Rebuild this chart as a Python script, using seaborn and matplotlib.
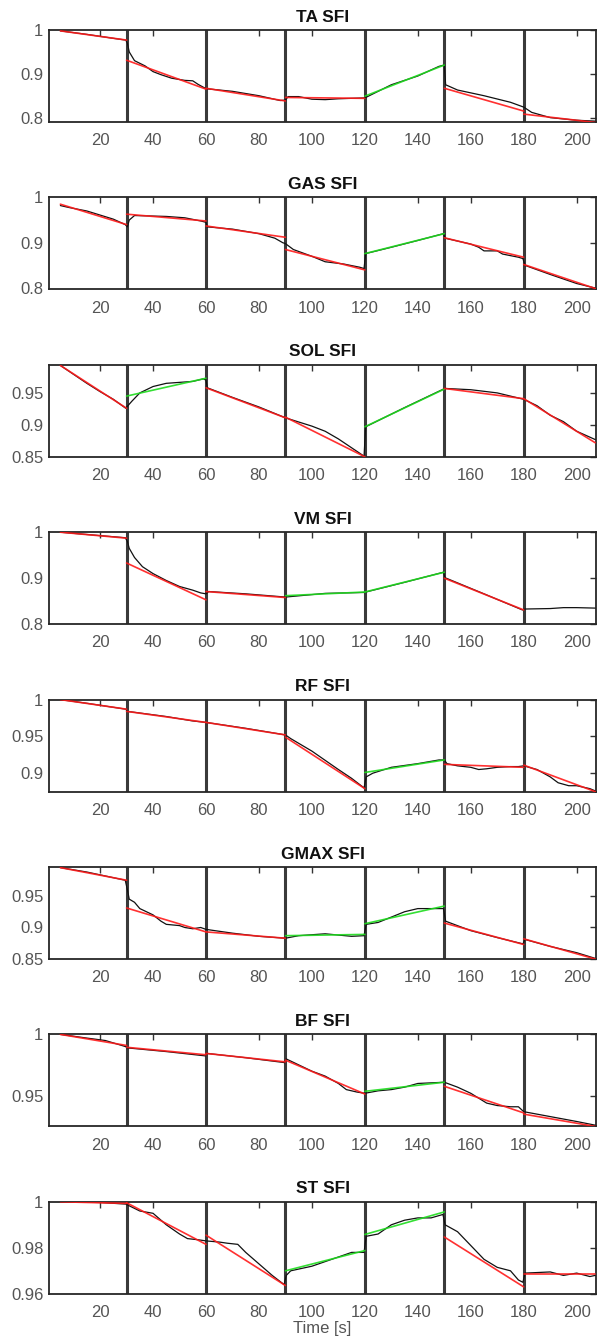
import numpy as np
import pandas as pd
import matplotlib
matplotlib.use("Agg")
import matplotlib.pyplot as plt
from matplotlib.ticker import FormatStrFormatter
import seaborn as sns

# segment edges (s) and boundaries between trials
seg_edges = [5, 30, 60, 90, 120, 150, 180, 207]
boundaries = [30, 60, 90, 120, 150, 180]

muscles = ["TA", "GAS", "SOL", "VM", "RF", "GMAX", "BF", "ST"]

# raw SFI traces (black)
ta_t = [5, 15, 25, 29.7, 30.3, 31, 33, 37, 40, 43, 47, 52, 55, 57, 60, 70, 80, 88, 90, 91,
        95, 100, 105, 110, 120, 130, 140, 148, 150, 150.5, 155, 165, 175, 180, 183, 190, 200, 207]
ta_v = [0.998, 0.99, 0.981, 0.977, 0.97, 0.95, 0.93, 0.918, 0.905, 0.898, 0.89, 0.885, 0.884, 0.876,
        0.866, 0.86, 0.85, 0.839, 0.84, 0.848, 0.848, 0.842, 0.841, 0.843, 0.845, 0.875, 0.895, 0.917,
        0.92, 0.875, 0.863, 0.85, 0.835, 0.824, 0.812, 0.8, 0.794, 0.792]

gas_t = [5, 8, 15, 25, 29.5, 30.3, 31, 33, 45, 52, 58, 60, 60.5, 70, 80, 86, 89, 90, 93, 100,
         105, 112, 118, 119.7, 120.3, 130, 140, 149.7, 150.3, 160, 163, 165, 170, 172, 178, 179.7,
         180.5, 190, 200, 207]
gas_v = [0.982, 0.978, 0.97, 0.952, 0.94, 0.935, 0.95, 0.96, 0.958, 0.955, 0.948, 0.945, 0.935, 0.93,
         0.92, 0.91, 0.90, 0.898, 0.885, 0.87, 0.858, 0.853, 0.846, 0.843, 0.876, 0.89, 0.905, 0.92,
         0.91, 0.897, 0.89, 0.882, 0.882, 0.875, 0.868, 0.865, 0.85, 0.83, 0.81, 0.80]

sol_t = [5, 15, 20, 25, 29.7, 30.5, 32, 35, 40, 45, 55, 59, 60, 60.5, 70, 80, 90, 100, 105, 110,
         119.7, 120.3, 135, 149.7, 150.3, 160, 170, 180, 185, 190, 195, 200, 207]
sol_v = [0.993, 0.965, 0.952, 0.94, 0.926, 0.93, 0.937, 0.95, 0.96, 0.965, 0.968, 0.972, 0.97, 0.958,
         0.943, 0.928, 0.911, 0.898, 0.89, 0.878, 0.851, 0.897, 0.927, 0.956, 0.957, 0.955, 0.95,
         0.94, 0.93, 0.915, 0.905, 0.89, 0.877]

vm_t = [5, 15, 29.5, 30.3, 31, 33, 36, 40, 45, 50, 55, 58, 60, 61, 75, 90, 105, 119.7, 135, 149.7,
        150.3, 165, 179.5, 180.5, 190, 195, 200, 207]
vm_v = [1.0, 0.995, 0.988, 0.98, 0.965, 0.945, 0.925, 0.91, 0.895, 0.882, 0.874, 0.868, 0.866, 0.871,
        0.866, 0.859, 0.867, 0.869, 0.891, 0.913, 0.901, 0.866, 0.831, 0.833, 0.834, 0.836, 0.836, 0.835]

rf_t = [5, 15, 29.7, 30.3, 45, 55, 60, 75, 90, 92, 100, 108, 110, 115, 119.7, 120.5, 123, 130, 140,
        148, 150, 151, 155, 160, 163, 166, 170, 175, 178, 180, 185, 190, 193, 197, 200, 205, 207]
rf_v = [1.0, 0.995, 0.987, 0.984, 0.977, 0.971, 0.969, 0.961, 0.952, 0.947, 0.93, 0.91, 0.905, 0.893,
        0.88, 0.895, 0.9, 0.908, 0.913, 0.918, 0.918, 0.913, 0.91, 0.908, 0.905, 0.906, 0.908, 0.909,
        0.909, 0.91, 0.905, 0.895, 0.887, 0.883, 0.883, 0.879, 0.876]

gmax_t = [5, 15, 29.5, 30.3, 31, 33, 35, 40, 43, 45, 50, 52, 55, 58, 60, 70, 80, 90, 95, 105,
          110, 115, 119.7, 120.5, 125, 135, 140, 145, 149.7, 150.5, 160, 170, 179.7, 180.5, 190, 200, 207]
gmax_v = [0.995, 0.988, 0.975, 0.96, 0.945, 0.94, 0.93, 0.92, 0.91, 0.905, 0.903, 0.9, 0.898, 0.9,
          0.897, 0.891, 0.886, 0.883, 0.887, 0.89, 0.888, 0.886, 0.887, 0.905, 0.908, 0.925, 0.93,
          0.93, 0.93, 0.91, 0.895, 0.884, 0.874, 0.881, 0.87, 0.86, 0.851]

bf_t = [5, 15, 22, 29.7, 30.3, 45, 59.7, 60.3, 75, 89.7, 90.3, 100, 105, 110, 113, 117, 120, 125,
        130, 135, 140, 150, 155, 160, 163, 166, 170, 175, 178, 180, 190, 200, 207]
bf_v = [1.0, 0.997, 0.995, 0.99, 0.989, 0.986, 0.9825, 0.9845, 0.981, 0.977, 0.98, 0.97, 0.966, 0.96,
        0.955, 0.953, 0.952, 0.954, 0.955, 0.957, 0.96, 0.961, 0.957, 0.952, 0.948, 0.944, 0.942,
        0.941, 0.941, 0.937, 0.933, 0.929, 0.926]

st_t = [5, 20, 29.7, 35, 40, 45, 50, 53, 57, 60, 65, 68, 72, 75, 80, 85, 89.5, 90.3, 92, 100,
        110, 115, 119.7, 120.5, 125, 130, 135, 140, 145, 149.5, 150.3, 155, 160, 165, 170, 175,
        178, 179.7, 180.5, 190, 195, 200, 205, 207]
st_v = [1.0, 0.9997, 0.999, 0.996, 0.995, 0.99, 0.986, 0.984, 0.9835, 0.983, 0.9825, 0.982, 0.9815,
        0.978, 0.973, 0.968, 0.964, 0.968, 0.97, 0.972, 0.976, 0.978, 0.978, 0.985, 0.986, 0.99,
        0.992, 0.993, 0.993, 0.9945, 0.99, 0.987, 0.981, 0.975, 0.9715, 0.97, 0.966, 0.965, 0.969,
        0.9695, 0.968, 0.969, 0.9675, 0.968]

# linear fits per segment: start value, end value, colour ('r' falling, 'g' rising, None = no fit)
fit_start = {
    "TA":   [0.998, 0.931, 0.867, 0.846, 0.849, 0.867, 0.808],
    "GAS":  [0.985, 0.963, 0.937, 0.885, 0.876, 0.911, 0.852],
    "SOL":  [0.993, 0.945, 0.958, 0.912, 0.897, 0.957, 0.941],
    "VM":   [1.0, 0.933, 0.871, 0.862, 0.87, 0.9, None],
    "RF":   [1.0, 0.984, 0.969, 0.949, 0.901, 0.912, 0.911],
    "GMAX": [0.995, 0.931, 0.893, 0.887, 0.906, 0.907, 0.882],
    "BF":   [1.0, 0.9895, 0.9845, 0.979, 0.9536, 0.9577, 0.935],
    "ST":   [1.0, 0.9996, 0.9855, 0.970, 0.9858, 0.9847, 0.9686],
}
fit_end = {
    "TA":   [0.977, 0.865, 0.838, 0.844, 0.92, 0.815, 0.789],
    "GAS":  [0.94, 0.948, 0.912, 0.84, 0.92, 0.868, 0.799],
    "SOL":  [0.926, 0.973, 0.911, 0.85, 0.956, 0.941, 0.872],
    "VM":   [0.987, 0.853, 0.858, 0.87, 0.913, 0.831, None],
    "RF":   [0.987, 0.969, 0.952, 0.879, 0.918, 0.908, 0.875],
    "GMAX": [0.975, 0.893, 0.883, 0.889, 0.934, 0.873, 0.85],
    "BF":   [0.991, 0.9834, 0.9776, 0.9514, 0.961, 0.936, 0.925],
    "ST":   [0.9993, 0.9815, 0.9636, 0.9788, 0.9956, 0.963, 0.9686],
}
fit_color = {
    "TA":   ["r", "r", "r", "r", "g", "r", "r"],
    "GAS":  ["r", "r", "r", "r", "g", "r", "r"],
    "SOL":  ["r", "g", "r", "r", "g", "r", "r"],
    "VM":   ["r", "r", "r", "g", "g", "r", None],
    "RF":   ["r", "r", "r", "r", "g", "r", "r"],
    "GMAX": ["r", "r", "r", "g", "g", "r", "r"],
    "BF":   ["r", "r", "r", "r", "g", "r", "r"],
    "ST":   ["r", "r", "r", "g", "g", "r", "r"],
}

traces = {
    "TA": (ta_t, ta_v), "GAS": (gas_t, gas_v), "SOL": (sol_t, sol_v), "VM": (vm_t, vm_v),
    "RF": (rf_t, rf_v), "GMAX": (gmax_t, gmax_v), "BF": (bf_t, bf_v), "ST": (st_t, st_v),
}

y_limits = {
    "TA": (0.79, 1.0), "GAS": (0.797, 1.0), "SOL": (0.85, 0.994), "VM": (0.8, 1.0),
    "RF": (0.875, 1.0), "GMAX": (0.85, 0.996), "BF": (0.925, 1.0), "ST": (0.96, 1.0),
}
y_ticks = {
    "TA": [0.8, 0.9, 1], "GAS": [0.8, 0.9, 1], "SOL": [0.85, 0.9, 0.95], "VM": [0.8, 0.9, 1],
    "RF": [0.9, 0.95, 1], "GMAX": [0.85, 0.9, 0.95], "BF": [0.95, 1], "ST": [0.96, 0.98, 1],
}
x_ticks = [20, 40, 60, 80, 100, 120, 140, 160, 180, 200]

sns.set_theme(style="white")
plt.rcParams["font.family"] = ["Liberation Sans", "DejaVu Sans"]

W, H = 597, 1344
fig = plt.figure(figsize=(W / 100, H / 100), dpi=100)

palette = {"r": "#ff1a1a", "g": "#1edc1e"}

for i, m in enumerate(muscles):
    top = 30 + i * 167.4
    ax = fig.add_axes([49 / W, 1 - (top + 92) / H, 547 / W, 92 / H])

    for b in boundaries:
        ax.axvline(b, color="#3a3a3a", lw=2.2, zorder=1)

    t, v = traces[m]
    sns.lineplot(x=t, y=v, ax=ax, color="#111111", lw=0.9, zorder=3)

    for k in range(len(seg_edges) - 1):
        c = fit_color[m][k]
        if c is None:
            continue
        sns.lineplot(x=[seg_edges[k], seg_edges[k + 1]],
                     y=[fit_start[m][k], fit_end[m][k]],
                     ax=ax, color=palette[c], lw=1.2, alpha=0.9, zorder=4)

    ax.set_xlim(0.7, 207.3)
    ax.set_ylim(*y_limits[m])
    ax.set_xticks(x_ticks)
    ax.set_yticks(y_ticks[m])
    ax.yaxis.set_major_formatter(FormatStrFormatter("%g"))
    ax.tick_params(direction="in", top=True, right=True, length=4, width=1,
                   color="#333333", labelcolor="#555555", labelsize=12, pad=4)
    ax.tick_params(axis="x", pad=8)
    for s in ax.spines.values():
        s.set_color("#262626")
        s.set_linewidth(1.3)
    ax.set_title(f"{m} SFI", fontsize=12.5, fontweight="bold", color="#111111", pad=6)
    ax.set_ylabel("")
    if i == len(muscles) - 1:
        ax.set_xlabel("Time [s]", fontsize=12, color="#555555", labelpad=1)
    else:
        ax.set_xlabel("")

fig.savefig("out.png", dpi=100)
